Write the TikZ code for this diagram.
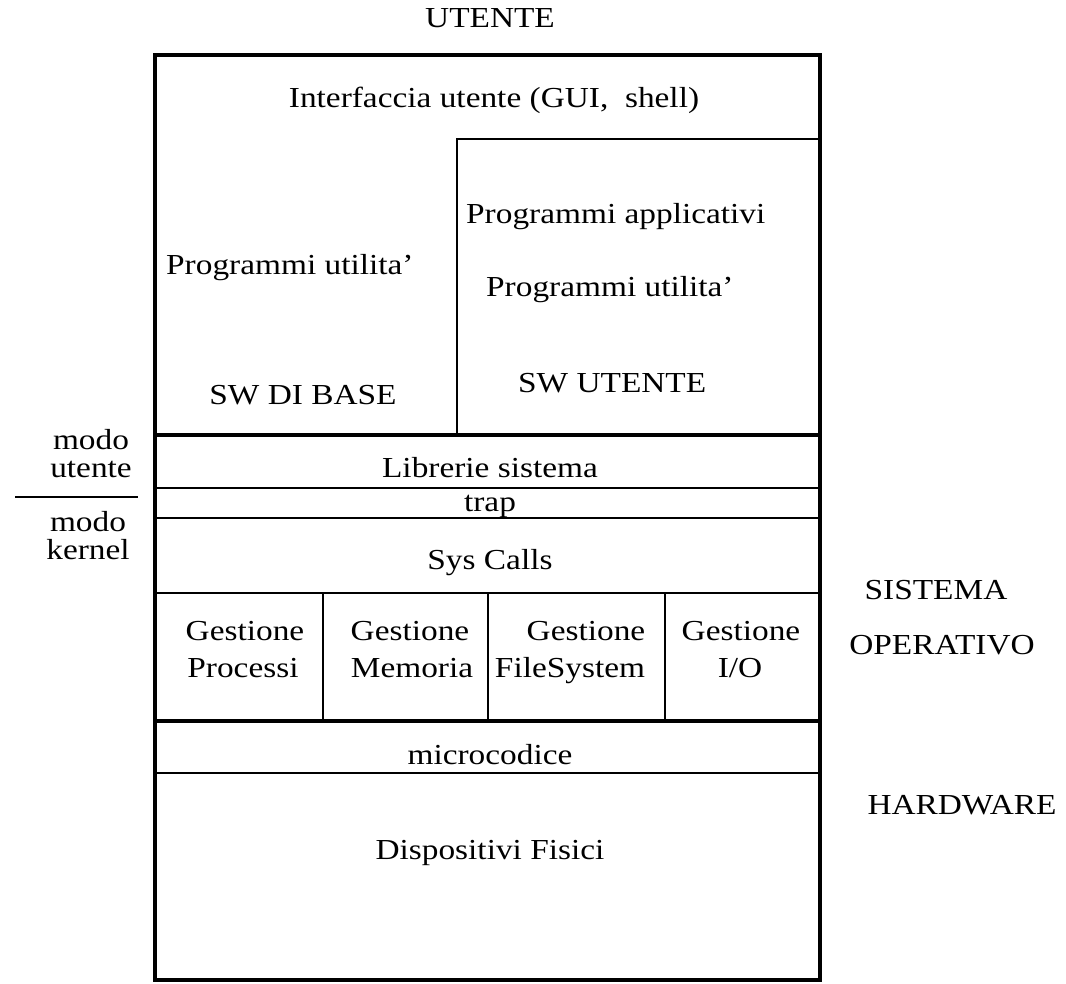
\documentclass[tikz,border=0pt]{standalone}
\usepackage{fontspec}
\setmainfont{Liberation Serif}[FakeStretch=1.15]
\begin{document}
\begin{tikzpicture}[x=1pt,y=-1pt,
  lbl/.style={inner sep=0pt, font=\fontsize{29}{28}\selectfont},
  rule/.style={line width=1.6pt},
  heavyrule/.style={line width=3.2pt},
  frame/.style={line width=4pt}]
\useasboundingbox[fill=white] (0,0) rectangle (1066,984);

% corners of the outer frame
\coordinate (tl) at (155,55);
\coordinate (br) at (820,980);

% user-level box (application software)
\draw[rule] (457,435) -- (457,139) -- (820,139);
% horizontal layer lines
\draw[heavyrule] (155,435) -- (820,435);
\draw[rule] (155,488) -- (820,488);
\draw[rule] (155,518) -- (820,518);
\draw[rule] (155,593) -- (820,593);
\draw[rule] (323,593) -- (323,720);
\draw[rule] (488,593) -- (488,720);
\draw[rule] (665,593) -- (665,720);
\draw[heavyrule] (155,721) -- (820,721);
\draw[rule] (155,773) -- (820,773);
% outer frame
\draw[frame] (tl) rectangle (br);

% texts
\node[lbl] (utente) at (490,18) {UTENTE};
\node[lbl] (gui) at (494,100) {Interfaccia utente (GUI,\ \ shell)};
\node[lbl,anchor=west] (utilb) at (166,268) {Programmi utilita'};
\node[lbl] (swbase) at (303,395) {SW DI BASE};
\node[lbl,anchor=west] (appl) at (466,217) {Programmi applicativi};
\node[lbl,anchor=west] (utilu) at (486,290) {Programmi utilita'};
\node[lbl,anchor=west] (swut) at (518,383) {SW UTENTE};
\node[lbl] (lib) at (490,468) {Librerie sistema};
\node[lbl] (trap) at (490,506) {trap};
\node[lbl] (sys) at (490,563) {Sys Calls};

\node[lbl,anchor=base] (g1a) at (245,640) {Gestione};
\node[lbl,anchor=base] (g1b) at (243,677) {Processi};
\node[lbl,anchor=base] (g2a) at (410,640) {Gestione};
\node[lbl,anchor=base] (g2b) at (412,677) {Memoria};
\node[lbl,anchor=base] (g3a) at (586,640) {Gestione};
\node[lbl,anchor=base] (g3b) at (570,677) {FileSystem};
\node[lbl,anchor=base] (g4a) at (741,640) {Gestione};
\node[lbl,anchor=base] (g4b) at (740,677) {I/O};

\node[lbl] (micro) at (490,755) {microcodice};
\node[lbl] (disp) at (490,853) {Dispositivi Fisici};

% mode labels on the left
\node[lbl,align=center] (mu) at (91,454) {modo\\utente};
\coordinate (sepl) at (15,497);
\coordinate (sepr) at (138,497);
\draw[rule] (sepl) -- (sepr);
\node[lbl,align=center] (mk) at (88,536) {modo\\kernel};

% level labels on the right
\node[lbl] (sis) at (936,590) {SISTEMA};
\node[lbl] (op) at (942,645) {OPERATIVO};
\node[lbl] (hw) at (962,805) {HARDWARE};
\end{tikzpicture}
\end{document}
